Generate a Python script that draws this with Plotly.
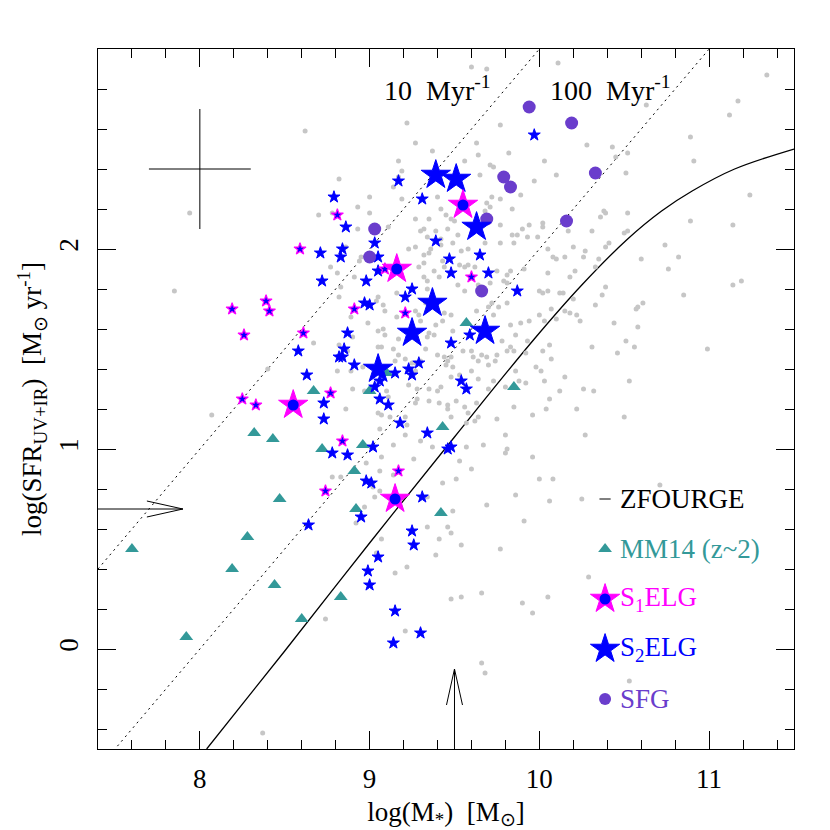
import math

import plotly.graph_objects as go

# ---- data: (log M*, log SFR) ----
ZFOURGE = [
    (9.27, 2.53), (9.63, 2.53), (9.37, 2.49), (9.82, 2.48), (9.64, 2.47), (9.17, 2.44),
    (9.56, 2.44), (9.71, 2.42), (9.73, 2.41), (10.03, 2.44), (9.19, 2.39), (8.82, 2.35),
    (9.65, 2.37), (10.10, 2.37), (9.14, 2.31), (9.97, 2.34), (9.89, 2.27), (9.00, 2.26),
    (9.19, 2.25), (9.40, 2.26), (9.72, 2.26), (9.77, 2.25), (9.69, 2.23), (9.71, 2.21),
    (9.68, 2.19), (8.93, 2.21), (9.45, 2.17), (9.84, 2.20), (9.27, 2.15), (9.32, 2.10),
    (9.00, 2.18), (9.11, 2.11), (9.39, 2.09), (9.46, 2.10), (9.52, 2.07), (9.48, 2.15),
    (9.50, 2.14), (8.93, 2.10), (9.90, 2.10), (9.94, 2.12), (10.02, 2.13), (10.02, 2.11),
    (9.77, 2.12), (9.84, 2.07), (9.87, 2.07), (9.93, 2.06), (9.23, 2.00), (9.27, 2.01),
    (9.36, 2.00), (9.35, 1.98), (9.42, 2.05), (9.32, 1.97), (9.49, 2.03), (9.54, 1.99),
    (9.58, 2.00), (9.68, 2.03), (9.77, 2.03), (9.85, 2.03), (9.99, 2.06), (10.05, 2.00),
    (10.17, 2.09), (10.08, 1.96), (10.10, 1.95), (10.15, 1.96), (10.20, 2.01), (9.29, 1.91),
    (9.32, 1.93), (9.43, 1.94), (9.44, 1.91), (9.53, 1.92), (9.56, 1.91), (9.58, 1.92),
    (9.62, 1.91), (9.38, 1.89), (9.41, 1.86), (9.34, 1.84), (9.52, 1.82), (9.56, 1.79),
    (9.64, 1.82), (9.71, 1.83), (9.79, 1.84), (9.81, 1.83), (9.81, 1.87), (9.83, 1.89),
    (9.75, 1.89), (9.91, 1.90), (10.05, 1.88), (10.00, 1.79), (10.02, 1.78), (10.05, 1.79),
    (10.12, 1.78), (10.14, 1.78), (10.18, 1.86), (10.20, 1.75), (8.83, 1.81), (8.91, 1.86),
    (9.05, 1.76), (9.16, 1.78), (9.33, 1.73), (9.27, 1.69), (9.09, 1.69), (9.16, 1.66),
    (9.30, 1.64), (9.44, 1.68), (9.48, 1.67), (9.43, 1.64), (9.49, 1.59), (9.63, 1.69),
    (9.70, 1.71), (9.72, 1.73), (9.76, 1.71), (9.81, 1.73), (9.73, 1.67), (9.83, 1.62),
    (9.89, 1.63), (9.94, 1.64), (10.00, 1.67), (10.07, 1.70), (10.10, 1.65), (10.15, 1.69),
    (10.18, 1.68), (8.89, 1.66), (9.05, 1.59), (9.35, 1.58), (9.38, 1.57),
    (9.60, 2.91), (9.69, 2.90), (10.11, 2.93), (11.34, 2.87), (10.63, 2.72), (11.17, 2.74),
    (11.12, 2.67), (9.77, 2.62), (10.28, 2.52), (10.43, 2.51), (10.52, 2.48), (10.89, 2.56),
    (10.91, 2.44), (10.45, 2.46), (10.51, 2.38), (11.24, 2.27), (10.38, 2.19), (10.39, 2.18),
    (10.52, 2.18), (10.36, 2.16), (10.89, 2.14), (11.14, 2.12), (10.31, 2.09), (10.52, 2.09),
    (10.50, 2.08), (10.39, 2.01), (10.41, 2.03), (10.27, 1.99), (10.26, 1.96), (10.35, 1.95),
    (10.21, 1.89), (10.33, 1.91), (10.74, 2.02), (10.82, 1.96), (10.60, 1.95), (10.76, 1.90),
    (11.14, 1.82), (11.19, 1.84), (10.85, 1.77), (10.61, 1.73), (10.58, 1.71), (10.39, 1.81),
    (10.37, 1.77), (10.33, 1.72), (10.22, 1.67), (10.24, 1.64), (10.44, 1.63), (10.03, 1.64),
    (8.62, 2.59), (9.22, 2.63), (7.94, 2.18), (7.85, 1.79), (9.17, 2.36), (8.70, 2.17),
    (8.78, 2.18), (9.35, 2.15), (9.42, 2.20), (9.30, 2.09), (9.34, 2.06), (8.86, 2.01),
    (8.81, 1.88), (8.77, 1.91), (8.94, 1.94), (8.95, 1.96), (8.82, 1.76), (9.04, 1.74),
    (9.08, 1.72), (9.32, 1.86), (9.34, 1.80), (9.29, 1.67), (8.99, 1.63), (9.08, 1.60),
    (9.39, 1.62), (9.34, 1.56), (9.42, 2.02),
    (8.07, 1.17), (8.40, 1.40), (8.67, 1.53), (8.82, 1.52), (8.87, 1.49), (8.90, 1.56),
    (8.81, 1.39), (8.89, 1.39), (8.96, 1.41), (9.05, 1.51), (9.07, 1.51), (9.14, 1.50),
    (9.17, 1.47), (9.09, 1.57), (9.17, 1.55), (9.15, 1.44), (9.21, 1.45), (9.25, 1.43),
    (9.27, 1.43), (9.30, 1.44), (9.33, 1.50), (9.40, 1.47), (9.44, 1.46), (9.46, 1.44),
    (9.49, 1.41), (9.27, 1.39), (9.10, 1.29), (9.23, 1.32), (9.28, 1.30), (9.35, 1.30),
    (9.40, 1.29), (8.90, 1.30), (8.97, 1.29), (9.28, 1.25), (9.27, 1.23), (9.35, 1.24),
    (9.41, 1.23), (9.46, 1.22), (9.46, 1.20), (9.51, 1.24), (8.86, 1.20), (9.11, 1.26),
    (9.05, 1.18), (9.07, 1.17), (9.12, 1.16), (9.21, 1.16), (9.22, 1.12), (9.06, 1.10),
    (9.21, 1.07), (9.30, 1.04), (9.37, 1.01), (9.07, 0.96), (9.14, 1.02), (9.26, 0.95),
    (8.98, 0.93), (8.78, 0.86), (8.83, 0.86), (9.06, 0.89), (9.14, 0.87), (9.02, 0.81),
    (9.06, 0.79), (9.43, 0.83), (9.51, 0.85), (9.34, 0.76), (8.97, 0.71), (9.03, 0.76),
    (8.92, 0.63), (9.07, 0.55), (9.34, 0.61), (9.41, 0.55), (9.46, 0.61), (9.39, 0.47),
    (9.04, 0.48), (9.22, 0.41),
    (9.86, 1.57), (9.78, 1.54), (9.83, 1.51), (9.81, 1.49), (9.85, 1.49), (9.92, 1.48),
    (9.93, 1.54), (10.06, 1.52), (10.02, 1.49), (10.07, 1.45), (10.31, 1.51), (10.51, 1.54),
    (10.56, 1.51), (10.46, 1.48), (9.48, 1.46), (9.55, 1.49), (9.60, 1.49), (9.61, 1.46),
    (9.66, 1.47), (9.64, 1.44), (9.69, 1.46), (9.70, 1.42), (9.75, 1.47), (9.74, 1.44),
    (9.45, 1.42), (9.60, 1.39), (9.64, 1.35), (9.70, 1.30), (9.48, 1.36), (9.53, 1.37),
    (9.73, 1.34), (9.80, 1.31), (9.86, 1.39), (9.88, 1.34), (9.92, 1.33), (9.98, 1.41),
    (10.01, 1.39), (10.03, 1.34), (10.15, 1.36), (10.12, 1.29), (10.26, 1.30), (10.32, 1.29),
    (10.53, 1.34), (9.42, 1.31), (9.56, 1.21), (9.63, 1.23), (9.85, 1.21), (10.06, 1.25),
    (10.04, 1.20), (10.22, 1.20), (10.50, 1.16), (9.58, 1.18), (9.64, 1.16), (9.75, 1.15),
    (9.62, 1.14), (9.57, 1.13), (9.48, 1.16), (9.96, 1.17), (9.80, 1.07), (9.67, 1.02),
    (9.57, 1.01), (9.81, 1.00), (9.80, 0.98), (9.96, 0.96), (10.27, 1.07), (9.53, 0.94),
    (9.60, 0.90), (10.00, 0.85), (10.08, 0.85), (9.86, 0.77), (10.06, 0.74), (10.25, 0.75),
    (9.69, 0.72), (9.49, 0.69), (9.91, 0.64), (9.48, 0.58), (9.54, 0.52), (9.77, 0.50),
    (10.57, 1.70), (10.58, 1.61), (10.99, 1.50), (10.71, 0.82), (10.29, 0.36), (10.53, -0.16),
    (9.15, 0.38), (8.74, 0.15), (9.48, 0.25), (9.54, 0.26), (9.66, 0.28), (9.90, 0.23),
    (9.96, 0.18), (10.05, 0.26), (9.21, 0.09), (9.66, -0.07), (9.68, -0.12), (8.37, -0.42),
]

MM14 = [
    (7.60, 0.50), (7.92, 0.06), (8.19, 0.40), (8.28, 0.56), (8.32, 1.08), (8.43, 1.05),
    (8.44, 0.32), (8.47, 0.75), (8.60, 0.15), (8.67, 1.29), (8.72, 1.00), (8.83, 0.26),
    (8.91, 0.89), (8.92, 0.70), (8.96, 1.02), (9.00, 1.29), (9.10, 1.38), (9.43, 1.11),
    (9.42, 0.68), (9.57, 1.63), (9.85, 1.31),
]

# small ELG stars, blue outline
ELG_SMALL = [
    (9.17, 2.34), (8.79, 2.26), (9.31, 2.25), (8.86, 2.11), (9.03, 2.03), (8.71, 1.98),
    (8.84, 2.00), (8.83, 1.96), (9.05, 1.96), (9.05, 1.89), (8.72, 1.84), (8.98, 1.84),
    (9.25, 1.80), (9.21, 1.76), (8.97, 1.73), (9.00, 1.72), (8.87, 1.58), (9.39, 2.04),
    (9.47, 1.95), (9.65, 1.97), (9.48, 1.88), (9.70, 1.88), (9.87, 1.79), (9.59, 1.57),
    (9.97, 2.57), (8.58, 1.49), (8.85, 1.50), (8.82, 1.46), (8.84, 1.46), (8.91, 1.42),
    (8.63, 1.37), (8.73, 1.23), (8.73, 1.15), (9.06, 1.34), (9.03, 1.31), (9.15, 1.38),
    (9.23, 1.40), (9.29, 1.43), (9.25, 1.37), (9.48, 1.53), (9.06, 1.25), (9.11, 1.22),
    (9.18, 1.13), (9.34, 1.08), (8.78, 0.98), (8.87, 0.97), (9.02, 1.01), (9.46, 1.00),
    (9.48, 1.01), (8.98, 0.84), (9.01, 0.83), (9.31, 0.76), (8.95, 0.66), (8.64, 0.62),
    (9.25, 0.59), (9.26, 0.52), (9.05, 0.46), (9.54, 1.34), (9.57, 1.30), (8.99, 0.39),
    (9.00, 0.32), (9.15, 0.19), (9.30, 0.08), (9.14, 0.03),
]
# small ELG stars, magenta outline
ELG_SMALL_MAG = [
    (8.81, 2.17), (8.59, 2.00), (8.91, 1.70), (9.21, 1.68), (8.39, 1.74), (8.41, 1.69),
    (8.19, 1.70), (8.26, 1.57), (8.61, 1.58), (9.60, 1.86), (9.09, 1.90), (8.77, 1.28),
    (8.25, 1.25), (8.33, 1.22), (8.84, 1.04), (9.17, 0.89), (8.74, 0.79),
]

S2ELG = [(9.39, 2.37), (9.51, 2.35), (9.63, 2.11), (9.37, 1.73), (9.25, 1.58), (9.68, 1.59), (9.05, 1.40)]
S1ELG = [(9.55, 2.22), (9.16, 1.90), (8.55, 1.22), (9.15, 0.75)]
SFG = [
    (9.94, 2.71), (10.19, 2.63), (10.33, 2.38), (9.79, 2.36), (9.83, 2.31),
    (9.69, 2.15), (10.16, 2.14), (9.66, 1.79), (9.03, 2.10), (9.00, 1.96),
]

# star-forming main sequence curve
MS_MASS = [8.04, 8.50, 9.00, 9.50, 9.97, 10.25, 10.52, 10.72, 10.90, 11.15, 11.50]
MS_SFR = [-0.50, -0.01, 0.53, 1.06, 1.55, 1.82, 2.05, 2.19, 2.29, 2.40, 2.50]

TIMESCALES_MYR = [10, 100]
TIMESCALE_LABEL_X = [9.40, 10.42]
TIMESCALE_LABEL_Y = 2.805

MASS_LIMIT, MASS_ARROW_TIP = 9.5, -0.10
SFR_LIMIT, SFR_ARROW_TIP = 0.7, 7.90
ERR_X, ERR_Y, ERR_DX, ERR_DY = 8.0, 2.4, 0.3, 0.3

X_RANGE = [7.4, 11.5]
Y_RANGE = [-0.5, 3.0]

FONT = "Liberation Serif"
GRAY = "#c6c6c6"
TEAL = "#339999"
BLUE = "#0000ff"
MAGENTA = "#ff00ff"
PURPLE = "#6a3dcc"

W, H = 830, 830
M = dict(l=90, r=44, t=41, b=89)
PX_X = (X_RANGE[1] - X_RANGE[0]) / (W - M["l"] - M["r"])
PX_Y = (Y_RANGE[1] - Y_RANGE[0]) / (H - M["t"] - M["b"])


def xy(points):
    return [p[0] for p in points], [p[1] for p in points]


fig = go.Figure()

# sSFR lines and main sequence
for t in TIMESCALES_MYR:
    off = math.log10(t * 1e6)
    fig.add_trace(go.Scatter(
        x=X_RANGE, y=[X_RANGE[0] - off, X_RANGE[1] - off], mode="lines",
        line=dict(color="black", width=1, dash="2px,4px"), hoverinfo="skip",
    ))
fig.add_trace(go.Scatter(
    x=MS_MASS, y=MS_SFR, mode="lines",
    line=dict(color="black", width=1.3, shape="spline", smoothing=1.0), hoverinfo="skip",
))

gx, gy = xy(ZFOURGE)
fig.add_trace(go.Scatter(x=gx, y=gy, mode="markers",
                         marker=dict(size=5, color=GRAY, line=dict(width=0))))
tx, ty = xy(MM14)
fig.add_trace(go.Scatter(x=tx, y=ty, mode="markers",
                         marker=dict(symbol="triangle-up", size=12, color=TEAL, line=dict(width=0))))
sx, sy = xy(ELG_SMALL)
fig.add_trace(go.Scatter(x=sx, y=sy, mode="markers",
                         marker=dict(symbol="star", size=9, color=BLUE, line=dict(color=BLUE, width=1))))
sx, sy = xy(ELG_SMALL_MAG)
fig.add_trace(go.Scatter(x=sx, y=sy, mode="markers",
                         marker=dict(symbol="star", size=9, color=BLUE, line=dict(color=MAGENTA, width=1.2))))
cx, cy = xy(SFG)
fig.add_trace(go.Scatter(x=cx, y=cy, mode="markers",
                         marker=dict(size=13, color=PURPLE, line=dict(width=0))))
bx, by = xy(S2ELG)
fig.add_trace(go.Scatter(x=bx, y=by, mode="markers",
                         marker=dict(symbol="star", size=22, color=BLUE, line=dict(color=BLUE, width=1))))
mx, my = xy(S1ELG)
fig.add_trace(go.Scatter(x=mx, y=my, mode="markers",
                         marker=dict(symbol="star", size=22, color=MAGENTA, line=dict(color=MAGENTA, width=1))))
fig.add_trace(go.Scatter(x=mx, y=my, mode="markers",
                         marker=dict(size=11, color=BLUE, line=dict(width=0))))

# typical error bar
fig.add_trace(go.Scatter(
    x=[ERR_X], y=[ERR_Y], mode="markers", marker=dict(size=1, color="black", opacity=0),
    error_x=dict(type="constant", value=ERR_DX, width=0, thickness=1, color="black"),
    error_y=dict(type="constant", value=ERR_DY, width=0, thickness=1, color="black"),
))

# limit arrows (open heads)
head_len, head_half = 36, 8
line_k = dict(color="black", width=1)
shapes = [
    dict(type="line", x0=X_RANGE[0], x1=SFR_ARROW_TIP, y0=SFR_LIMIT, y1=SFR_LIMIT, line=line_k),
    dict(type="line", x0=SFR_ARROW_TIP - head_len * PX_X, x1=SFR_ARROW_TIP,
         y0=SFR_LIMIT + head_half * PX_Y, y1=SFR_LIMIT, line=line_k),
    dict(type="line", x0=SFR_ARROW_TIP - head_len * PX_X, x1=SFR_ARROW_TIP,
         y0=SFR_LIMIT - head_half * PX_Y, y1=SFR_LIMIT, line=line_k),
    dict(type="line", x0=MASS_LIMIT, x1=MASS_LIMIT, y0=Y_RANGE[0], y1=MASS_ARROW_TIP, line=line_k),
    dict(type="line", x0=MASS_LIMIT - head_half * PX_X, x1=MASS_LIMIT,
         y0=MASS_ARROW_TIP - head_len * PX_Y, y1=MASS_ARROW_TIP, line=line_k),
    dict(type="line", x0=MASS_LIMIT + head_half * PX_X, x1=MASS_LIMIT,
         y0=MASS_ARROW_TIP - head_len * PX_Y, y1=MASS_ARROW_TIP, line=line_k),
]

annotations = []
for t, lx in zip(TIMESCALES_MYR, TIMESCALE_LABEL_X):
    annotations.append(dict(
        x=lx, y=TIMESCALE_LABEL_Y, text=f"{t}  Myr<sup>-1</sup>", showarrow=False,
        font=dict(family=FONT, size=28, color="black"), xanchor="center", yanchor="middle",
    ))

# legend drawn in data space
LEGEND = [
    ("ZFOURGE", "black"),
    ("MM14 (z~2)", TEAL),
    ("S<sub>1</sub>ELG", MAGENTA),
    ("S<sub>2</sub>ELG", BLUE),
    ("SFG", PURPLE),
]
leg_x, leg_text_x, leg_y0, leg_dy = 10.387, 10.463, 0.75, 0.25
leg_y = [leg_y0 - i * leg_dy for i in range(len(LEGEND))]
for (label, col), yy in zip(LEGEND, leg_y):
    annotations.append(dict(
        x=leg_text_x, y=yy, text=label, showarrow=False, xanchor="left", yanchor="middle",
        font=dict(family=FONT, size=27, color=col),
    ))
glyphs = [
    dict(symbol="line-ew", size=8, color="black", line=dict(color="black", width=1)),
    dict(symbol="triangle-up", size=12, color=TEAL, line=dict(width=0)),
    dict(symbol="star", size=22, color=MAGENTA, line=dict(color=MAGENTA, width=1)),
    dict(symbol="star", size=22, color=BLUE, line=dict(color=BLUE, width=1)),
    dict(size=12, color=PURPLE, line=dict(width=0)),
]
for g, yy in zip(glyphs, leg_y):
    fig.add_trace(go.Scatter(x=[leg_x], y=[yy], mode="markers", marker=g))
fig.add_trace(go.Scatter(x=[leg_x], y=[leg_y[2]], mode="markers",
                         marker=dict(size=11, color=BLUE, line=dict(width=0))))

axis_common = dict(
    showline=True, linecolor="black", linewidth=1, mirror="allticks",
    ticks="inside", ticklen=18, tickwidth=1, tickcolor="black",
    showgrid=False, zeroline=False,
    tickfont=dict(family=FONT, size=27, color="black"),
    minor=dict(ticks="inside", ticklen=9, tickwidth=1, tickcolor="black", dtick=0.2, tick0=0),
)

fig.update_layout(
    width=W, height=H, margin=M,
    paper_bgcolor="white", plot_bgcolor="white",
    showlegend=False,
    font=dict(family=FONT, color="black"),
    xaxis=dict(range=X_RANGE, dtick=1, tick0=0, ticklabelstandoff=6,
               title=dict(text="log(M<sub>*</sub>)  [M<sub>⊙</sub>]",
                          font=dict(family=FONT, size=27), standoff=8),
               **axis_common),
    yaxis=dict(range=Y_RANGE, tickvals=[0, 1, 2], tickangle=-90, ticklabelstandoff=8,
               title=dict(text="log(SFR<sub>UV+IR</sub>)  [M<sub>⊙</sub> yr<sup>-1</sup>]",
                          font=dict(family=FONT, size=27), standoff=4),
               **axis_common),
    shapes=shapes,
    annotations=annotations,
)

fig.write_html("out.html")
